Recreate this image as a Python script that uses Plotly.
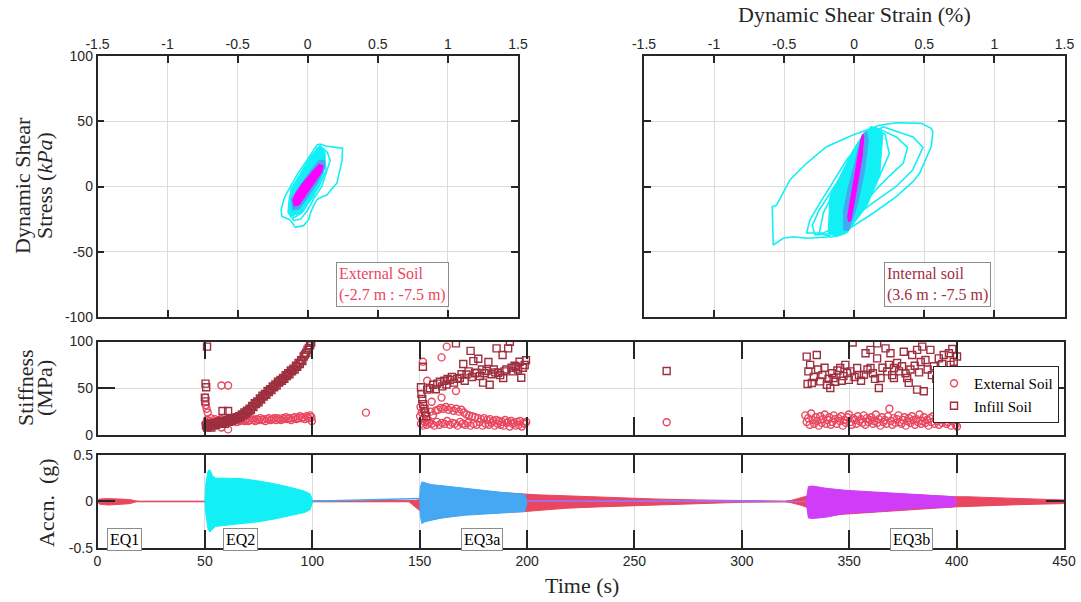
import plotly.graph_objects as go

# ---------------- colours ----------------
RED = "#E8475F"       # external soil / base record
DARK_RED = "#9E2F3F"  # infill soil
CYAN = "#12F0F5"      # EQ2
BLUE = "#44A8F2"      # EQ3a
MAG = "#FF00FF"       # loops, EQ3b cores
PURPLE = "#D03DF8"    # EQ3b record
FRAME = "#262626"
GRID = "#DCDCDC"
SERIF = "Liberation Serif"
SANS = "Liberation Sans"

# ---------------- hysteresis loops: external soil (strain %, stress kPa) ----------------
ext_loop1_strain = [0.089, 0.13, 0.20, 0.248, 0.245, 0.22, 0.208, 0.17, 0.137, 0.10, 0.066, 0.04, 0.02, 0.006,
                    -0.03, -0.089, -0.11, -0.125, -0.16, -0.184, -0.19, -0.172, -0.15, -0.125, -0.07, -0.006,
                    0.03, 0.066, 0.089]
ext_loop1_stress = [32.6, 31, 30, 29.3, 20, 8, 2.5, -2, -6.5, -8, -10, -15, -20, -25.6,
                    -30, -31.3, -28, -25.7, -24, -23, -18, -10.3, -5, 0, 10, 20,
                    26, 31.8, 32.6]
ext_loop2_strain = [0.10, 0.14, 0.16, 0.13, 0.10, 0.05, 0.0, -0.05, -0.10, -0.14, -0.13, -0.08, -0.02, 0.04, 0.08, 0.10]
ext_loop2_stress = [30, 26, 20, 10, 0, -8, -18, -25, -26, -20, -8, 2, 12, 22, 29, 30]
ext_loop3_strain = [0.07, 0.12, 0.13, 0.08, 0.02, -0.04, -0.10, -0.12, -0.09, -0.04, 0.02, 0.07]
ext_loop3_stress = [30, 24, 12, 0, -10, -20, -24, -16, -4, 6, 18, 30]
ext_dense_strain = [-0.125, 0.018, 0.089, 0.125, 0.113, 0.041, -0.053, -0.125, -0.137]
ext_dense_stress = [-2.7, 22.8, 31.8, 25.4, 10, -7.8, -20.5, -23, -12.9]
ext_blue_strain = [-0.11, -0.06, 0.0, 0.07, 0.12, 0.12, 0.08, 0.02, -0.06, -0.12]
ext_blue_stress = [-18, -17, -8, 3, 14, 20, 20, 12, 0, -10]
ext_core_strain = [-0.10, -0.06, -0.01, 0.05, 0.10, 0.11, 0.08, 0.03, -0.04, -0.09, -0.11]
ext_core_stress = [-15, -14, -6, 3, 11, 16, 17, 11, 2, -6, -11]

# ---------------- hysteresis loops: internal soil ----------------
int_loop1_strain = [0.561, 0.549, 0.466, 0.419, 0.300, 0.134, -0.032, -0.151, -0.34, -0.436, -0.507, -0.578,
                    -0.585, -0.554, -0.459, -0.34, -0.198, -0.009, 0.181, 0.30, 0.478, 0.549, 0.561]
int_loop1_stress = [42, 30.5, 10.1, 3.7, -7.8, -20.5, -32, -38.5, -39.7, -38.5, -39.7, -44.8,
                    -15.5, -14.2, 5, 17.8, 30.5, 39.5, 47, 48.9, 48.4, 44.6, 42]
int_loop2_strain = [0.205, 0.419, 0.49, 0.417, 0.30, 0.13, -0.03, -0.22, -0.34, -0.317, -0.245, -0.174,
                    -0.055, 0.063, 0.205]
int_loop2_stress = [45.8, 38, 30, 12.6, 0, -12.7, -25.7, -35.6, -35.6, -25.7, -12.7, 0,
                    20.3, 35.6, 45.8]
int_loop3_strain = [0.15, 0.20, 0.30, 0.38, 0.35, 0.25, 0.15, 0.05, -0.05, -0.15, -0.28, -0.30, -0.25,
                    -0.15, -0.05, 0.05, 0.15]
int_loop3_stress = [45, 43, 38, 30, 18, 8, -3, -15, -28, -36, -37, -30, -18, -2, 15, 32, 45]
int_loop4_strain = [0.12, 0.22, 0.25, 0.18, 0.08, -0.05, -0.18, -0.25, -0.22, -0.12, 0.0, 0.12]
int_loop4_stress = [46, 40, 25, 8, -8, -25, -38, -36, -20, 0, 25, 46]
int_dense_strain = [0.146, 0.205, 0.181, 0.087, -0.055, -0.127, -0.186, -0.174, -0.103, -0.009, 0.075]
int_dense_stress = [45.8, 41, 7.5, -15.5, -35.8, -38.5, -35.8, -7.8, 7.5, 28, 42]
int_blue_strain = [-0.08, -0.04, 0.02, 0.07, 0.10, 0.09, 0.06, 0.02, -0.04, -0.08]
int_blue_stress = [-33, -34, -15, 10, 35, 42, 40, 25, 0, -20]
int_core_strain = [-0.045, -0.025, 0.0, 0.03, 0.055, 0.068, 0.06, 0.045, 0.02, -0.01, -0.035, -0.048]
int_core_stress = [-27, -26, -12, 5, 22, 38, 40, 35, 18, 0, -15, -24]

# ---------------- stiffness (MPa) vs time (s) ----------------
ext_eq2_t = [50.2, 50.4, 50.8, 51.3, 50.3, 50.6, 57.7, 60.8, 57.7, 60.8,
             51.0, 51.6, 52.2, 52.8, 53.4, 54.0, 54.6, 55.2, 55.8, 56.4, 57.0, 57.6, 58.2, 58.8, 59.4, 60.0,
             60.7, 61.4, 62.1, 62.8, 63.5, 64.2, 64.9, 65.6, 66.3, 67.0, 67.8, 68.6, 69.4, 70.2, 71.0, 71.8,
             72.6, 73.4, 74.2, 75.0, 75.8, 76.6, 77.4, 78.2, 79.0, 79.8, 80.6, 81.4, 82.2, 83.0, 83.8, 84.6,
             85.4, 86.2, 87.0, 87.8, 88.6, 89.4, 90.2, 91.0, 91.8, 92.6, 93.4, 94.2, 95.0, 95.8, 96.6, 97.4,
             98.2, 99.0, 99.6, 99.8, 125.0]
ext_eq2_v = [40, 32, 28, 24, 12, 9, 53, 53, 8, 6,
             16, 13, 15, 18, 12, 14, 17, 15, 13, 16, 14, 17, 15, 13, 16, 14,
             15, 17, 14, 16, 15, 17, 14, 16, 15, 17, 16, 15, 17, 15, 16, 18,
             16, 15, 17, 16, 18, 16, 17, 15, 17, 18, 16, 17, 18, 16, 18, 17,
             16, 18, 17, 19, 17, 18, 16, 18, 19, 17, 18, 20, 18, 19, 17, 20,
             18, 21, 19, 15, 23.9]
ext_eq3a_t = [151.5, 162.6, 160.2, 153.5, 155.6, 160.2, 166.9, 150.4,
              150.2, 150.6, 151.0, 151.4, 151.8, 152.3, 152.8, 153.3, 153.8, 154.4, 155.0, 155.6, 156.2, 156.8,
              157.4, 158.0, 158.6, 159.2, 159.8, 160.4, 161.0, 161.6, 162.2, 162.8, 163.4, 164.0, 164.6, 165.2,
              165.8, 166.4, 167.0, 167.6, 168.2, 168.8, 169.4, 170.0, 170.6, 171.2, 171.8, 172.4, 173.0, 173.7,
              174.4, 175.1, 175.8, 176.5, 177.2, 177.9, 178.6, 179.3, 180.0, 180.7, 181.4, 182.1, 182.8, 183.5,
              184.2, 184.9, 185.6, 186.3, 187.0, 187.7, 188.4, 189.1, 189.8, 190.5, 191.2, 191.9, 192.6, 193.3,
              194.0, 194.7, 195.4, 196.1, 196.8, 197.5, 198.2, 198.9, 199.6, 265.0]
ext_eq3a_v = [78.4, 94.5, 83, 58, 35.6, 40, 47, 30,
              20, 12, 24, 10, 18, 14, 22, 11, 16, 13, 25, 12, 21, 10,
              26, 14, 27, 11, 29, 13, 28, 12, 30, 15, 27, 11, 29, 13,
              26, 12, 28, 10, 25, 14, 27, 12, 24, 11, 22, 13, 21, 10,
              20, 12, 19, 11, 18, 14, 17, 10, 18, 12, 16, 11, 17, 13,
              15, 10, 16, 12, 15, 11, 14, 10, 16, 13, 14, 9, 15, 12,
              13, 10, 14, 11, 15, 9, 13, 12, 14, 13.6]
ext_eq3b_t = [329.5, 330.2, 330.9, 331.6, 332.3, 333.0, 333.7, 334.4, 335.1, 335.8, 336.5, 337.2, 337.9, 338.6,
              339.3, 340.0, 340.7, 341.4, 342.1, 342.8, 343.5, 344.2, 344.9, 345.6, 346.3, 347.0, 347.7, 348.4,
              349.1, 349.8, 350.5, 351.2, 351.9, 352.6, 353.3, 354.0, 354.7, 355.4, 356.1, 356.8, 357.5, 358.2,
              358.9, 359.6, 360.3, 361.0, 361.7, 362.4, 363.1, 363.8, 364.5, 365.2, 365.9, 366.6, 367.3, 368.0,
              368.7, 369.4, 370.1, 370.8, 371.5, 372.2, 372.9, 373.6, 374.3, 375.0, 375.7, 376.4, 377.1, 377.8,
              378.5, 379.2, 379.9, 380.6, 381.3, 382.0, 382.7, 383.4, 384.1, 384.8, 385.5, 386.2, 386.9, 387.6,
              388.3, 389.0, 389.7, 390.4, 391.1, 391.8, 392.5, 393.2, 393.9, 394.6, 395.3, 396.0, 396.7, 397.4,
              398.1, 398.8, 399.5, 400.2]
ext_eq3b_v = [21, 14, 18, 11, 23, 16, 12, 19, 15, 10,
              20, 13, 17, 22, 12, 16, 19, 11, 14, 21,
              17, 12, 18, 15, 20, 10, 16, 13, 19, 22,
              14, 11, 18, 16, 12, 20, 15, 17, 13, 21,
              11, 18, 14, 16, 19, 12, 15, 22, 13, 17,
              10, 19, 14, 16, 12, 20, 28, 15, 11, 18,
              13, 17, 21, 14, 12, 16, 19, 10, 15, 18,
              13, 20, 16, 11, 17, 14, 22, 12, 15, 19,
              13, 16, 10, 18, 14, 20, 12, 17, 15, 11,
              19, 13, 16, 21, 12, 14, 18, 10, 15, 20,
              11, 9]

inf_eq2_t = [51.0, 50.3, 50.6, 50.0, 50.2, 58.2, 60.8,
             50.5, 51.0, 51.5, 52.0, 52.5, 53.0, 53.5, 54.0, 54.6, 55.2, 55.8, 56.4, 57.0, 57.6, 58.2, 58.8,
             59.4, 60.0, 60.6, 61.2, 61.8, 62.4, 63.0, 63.6, 64.2, 64.8, 65.4, 66.0, 66.6, 67.2, 67.8, 68.4,
             69.0, 69.6, 70.2, 70.8, 71.4, 72.0, 72.6, 73.2, 73.8, 74.4, 75.0, 75.6, 76.2, 76.8, 77.4, 78.0,
             78.6, 79.2, 79.8, 80.4, 81.0, 81.6, 82.2, 82.8, 83.4, 84.0, 84.6, 85.2, 85.8, 86.4, 87.0, 87.6,
             88.2, 88.8, 89.4, 90.0, 90.6, 91.2, 91.8, 92.4, 93.0, 93.6, 94.2, 94.8, 95.4, 96.0, 96.6, 97.2,
             97.8, 98.4, 99.0, 99.5]
inf_eq2_v = [94.5, 55, 51, 40, 36, 25.7, 25.7,
             10, 8, 12, 9, 11, 8, 12, 10, 13, 11, 12, 14, 12, 15, 13, 14,
             12, 15, 16, 14, 17, 15, 16, 18, 17, 19, 18, 20, 19, 22, 21, 24,
             23, 26, 25, 28, 27, 31, 30, 34, 33, 36, 35, 39, 38, 42, 41, 44,
             43, 47, 46, 49, 48, 52, 51, 54, 53, 57, 56, 59, 58, 61, 60, 64,
             63, 66, 65, 69, 68, 71, 70, 74, 73, 77, 76, 80, 79, 84, 86, 88,
             91, 93, 96, 99]
inf_eq3a_t = [151.5, 150.6, 150.8, 151.2, 151.6, 152.2, 152.6, 153.0, 153.5, 154.8, 156.3, 157.5, 158.2, 159.4,
              160.5, 161.5, 162.5, 163.0, 164.0, 165.0, 166.0, 166.9, 167.5, 168.7, 169.5, 170.3, 171.0, 171.8,
              172.8, 173.7, 174.3, 175.0, 175.8, 176.5, 177.3, 178.0, 179.0, 179.5, 180.2, 181.1, 182.0, 182.6,
              183.5, 184.5, 185.8, 185.2, 186.5, 187.5, 188.6, 188.9, 189.5, 190.4, 191.2, 192.0, 192.8, 193.5,
              194.2, 195.0, 195.8, 196.5, 197.3, 198.0, 198.9, 199.5, 265.0]
inf_eq3a_v = [73, 51, 44, 38.5, 33, 28, 24, 20, 48.5, 50, 53.7, 49, 55, 57,
              52, 58, 54, 60, 58.8, 62, 56, 98, 60, 61, 65, 76, 58, 64.7,
              68, 90, 62, 79, 66, 66.5, 81.5, 63, 70, 56, 66, 68.4, 78, 53.7,
              65, 70, 92.7, 67, 66.5, 64, 85.6, 61, 68, 70, 92.7, 99.8, 72, 68,
              74, 73, 70, 78.4, 61.3, 72, 74.8, 80, 68.4]
inf_eq3b_t = [330.2, 331.0, 331.8, 330.6, 332.6, 333.5, 334.9, 335.5, 336.5, 337.5, 338.5, 339.6, 340.4, 341.2,
              342.0, 342.7, 343.5, 344.5, 345.8, 346.5, 347.3, 348.2, 349.0, 349.8, 350.5, 351.6, 352.5, 353.7,
              354.5, 355.5, 356.8, 357.6, 358.5, 359.9, 359.9, 361.0, 362.0, 363.0, 363.0, 363.8, 364.6, 365.5,
              366.9, 367.7, 368.5, 369.2, 370.0, 370.8, 370.8, 372.3, 373.2, 374.6, 375.4, 376.2, 377.0, 377.7,
              378.5, 379.3, 380.5, 381.6, 381.6, 382.5, 383.3, 384.0, 384.7, 385.5, 386.5, 387.8, 388.5, 389.4,
              390.5, 391.7, 392.5, 393.3, 394.0, 395.0, 396.4, 397.2, 398.0, 398.7, 399.5, 400.2]
inf_eq3b_v = [83.8, 68, 75, 54.5, 55.6, 62, 85.6, 70, 57.4, 64, 72, 53.8, 60, 50.3,
              66, 61, 57, 69, 71.6, 58, 63, 75, 66.3, 59, 68, 99, 62, 71.6,
              64, 58, 64.5, 87.5, 70, 91, 71.6, 66, 60, 98, 82, 50.3, 61, 72,
              92.7, 68, 75, 87.5, 64, 71.6, 61, 77, 68, 73.5, 89, 66, 61, 55.7,
              70, 85.6, 74, 91, 48.5, 67, 78, 94.5, 46.8, 80.2, 70, 91, 64, 73.5,
              60, 82, 69, 76, 85.6, 66, 87.5, 75, 92, 78.4, 68, 84]

# ---------------- acceleration envelopes (g) ----------------
base_t = [0, 1, 5, 10, 15, 18, 20, 50, 100, 145, 148, 150, 155, 170, 199, 205, 218, 233, 245, 260, 280, 300,
          320, 323, 328, 331, 340, 399, 405, 417, 430, 449, 450]
base_up = [0.01, 0.025, 0.03, 0.025, 0.02, 0.005, 0.002, 0.002, 0.003, 0.003, 0.01, 0.02, 0.15, 0.12, 0.075,
           0.07, 0.06, 0.045, 0.035, 0.025, 0.015, 0.006, 0.003, 0.01, 0.04, 0.06, 0.12, 0.05, 0.05, 0.04, 0.03,
           0.02, 0.015]
base_lo = [-0.01, -0.03, -0.04, -0.035, -0.025, -0.005, -0.003, -0.003, -0.005, -0.005, -0.06, -0.1, -0.2,
           -0.14, -0.11, -0.1, -0.075, -0.06, -0.045, -0.035, -0.025, -0.01, -0.005, -0.015, -0.045, -0.07,
           -0.15, -0.06, -0.055, -0.045, -0.035, -0.025, -0.02]
eq2_t = [50.0, 50.5, 51.5, 52.3, 53.5, 55, 60, 67, 75, 82.5, 90, 96.5, 99, 100]
eq2_up = [0.0, 0.2, 0.33, 0.34, 0.28, 0.25, 0.25, 0.245, 0.22, 0.19, 0.15, 0.11, 0.08, 0.02]
eq2_lo = [0.0, -0.15, -0.3, -0.33, -0.3, -0.27, -0.25, -0.24, -0.22, -0.19, -0.155, -0.12, -0.09, -0.02]
drift_t = [100, 150]
drift_a = [0.0, 0.03]
eq3a_t = [150.0, 150.3, 151, 152.5, 155.7, 160, 171, 180, 187, 199, 200]
eq3a_up = [0.03, 0.15, 0.21, 0.2, 0.18, 0.17, 0.14, 0.12, 0.10, 0.075, 0.01]
eq3a_lo = [0.0, -0.15, -0.24, -0.22, -0.2, -0.18, -0.15, -0.14, -0.13, -0.11, -0.01]
tail_t = [200, 330]
tail_a = [0.004, 0.002]
eq3b_t = [330, 331, 333, 339.5, 348, 363, 380, 398.6, 400]
eq3b_up = [0.02, 0.16, 0.165, 0.14, 0.12, 0.10, 0.07, 0.05, 0.01]
eq3b_lo = [-0.02, -0.18, -0.185, -0.17, -0.13, -0.11, -0.075, -0.06, -0.01]

event_names = ["EQ1", "EQ2", "EQ3a", "EQ3b"]
event_label_t = [12.5, 66.5, 179.0, 379.0]

strain_ticks = [-1.5, -1, -0.5, 0, 0.5, 1, 1.5]
strain_labels = ["-1.5", "-1", "-0.5", "0", "0.5", "1", "1.5"]
stress_ticks = [-100, -50, 0, 50, 100]
stress_labels = ["-100", "-50", "0", "50", "100"]
time_ticks = [0, 50, 100, 150, 200, 250, 300, 350, 400, 450]

# ---------------- panel layout (paper fractions) ----------------
W, H = 1081, 602
X_TOP_L = [97.5 / W, 518 / W]
X_TOP_R = [644 / W, 1064.5 / W]
X_BOT = [97.5 / W, 1064 / W]
Y_TOP = [1 - 317 / H, 1 - 56 / H]
Y_STIF = [1 - 435 / H, 1 - 341.5 / H]
Y_ACC = [1 - 547.7 / H, 1 - 455 / H]

fig = go.Figure()


def loop(xs, ys, xa, ya, color, width=1.6):
    fig.add_trace(go.Scatter(x=xs, y=ys, mode="lines", line=dict(color=color, width=width),
                             xaxis=xa, yaxis=ya, showlegend=False, hoverinfo="skip"))


def patch(xs, ys, xa, ya, color):
    fig.add_trace(go.Scatter(x=xs, y=ys, mode="lines", fill="toself", fillcolor=color,
                             line=dict(color=color, width=1), xaxis=xa, yaxis=ya,
                             showlegend=False, hoverinfo="skip"))


def band(t, up, lo, color, xa="x4", ya="y4"):
    fig.add_trace(go.Scatter(x=list(t) + list(t)[::-1], y=list(up) + list(lo)[::-1], mode="lines",
                             fill="toself", fillcolor=color, line=dict(color=color, width=1),
                             xaxis=xa, yaxis=ya, showlegend=False, hoverinfo="skip"))


# external soil hysteresis
patch(ext_dense_strain, ext_dense_stress, "x", "y", CYAN)
loop(ext_loop1_strain, ext_loop1_stress, "x", "y", CYAN)
loop(ext_loop2_strain, ext_loop2_stress, "x", "y", CYAN)
loop(ext_loop3_strain, ext_loop3_stress, "x", "y", CYAN)
patch(ext_blue_strain, ext_blue_stress, "x", "y", BLUE)
patch(ext_core_strain, ext_core_stress, "x", "y", MAG)

# internal soil hysteresis
patch(int_dense_strain, int_dense_stress, "x2", "y2", CYAN)
loop(int_loop1_strain, int_loop1_stress, "x2", "y2", CYAN)
loop(int_loop2_strain, int_loop2_stress, "x2", "y2", CYAN)
loop(int_loop3_strain, int_loop3_stress, "x2", "y2", CYAN)
loop(int_loop4_strain, int_loop4_stress, "x2", "y2", CYAN)
patch(int_blue_strain, int_blue_stress, "x2", "y2", BLUE)
patch(int_core_strain, int_core_stress, "x2", "y2", MAG)

# stiffness scatter
fig.add_trace(go.Scatter(x=ext_eq2_t + ext_eq3a_t + ext_eq3b_t, y=ext_eq2_v + ext_eq3a_v + ext_eq3b_v,
                         mode="markers", name="External Soil", xaxis="x3", yaxis="y3",
                         marker=dict(symbol="circle-open", size=7, color=RED, line=dict(width=1.4))))
fig.add_trace(go.Scatter(x=inf_eq2_t + inf_eq3a_t + inf_eq3b_t, y=inf_eq2_v + inf_eq3a_v + inf_eq3b_v,
                         mode="markers", name="Infill Soil", xaxis="x3", yaxis="y3",
                         marker=dict(symbol="square-open", size=7, color=DARK_RED, line=dict(width=1.4))))

# acceleration records
band(base_t, base_up, base_lo, RED)
band(eq2_t, eq2_up, eq2_lo, CYAN)
loop(drift_t, drift_a, "x4", "y4", BLUE, 1.5)
band(eq3a_t, eq3a_up, eq3a_lo, BLUE)
loop(tail_t, tail_a, "x4", "y4", "#A66CF0", 2)
band(eq3b_t, eq3b_up, eq3b_lo, PURPLE)

tick_font = dict(family=SANS, size=14, color=FRAME)
common = dict(showline=True, linecolor=FRAME, linewidth=1.5, mirror="ticks", ticks="inside",
              tickcolor=FRAME, tickwidth=1.5, showgrid=True, gridcolor=GRID, gridwidth=1,
              zeroline=False, tickfont=tick_font, automargin=False)

fig.update_layout(
    template="none",
    width=W, height=H, margin=dict(l=0, r=0, t=0, b=0, pad=0), autosize=False,
    paper_bgcolor="white", plot_bgcolor="white",
    xaxis=dict(domain=X_TOP_L, anchor="y", range=[-1.5, 1.5], side="top", tickvals=strain_ticks,
               ticktext=strain_labels, ticklen=7, **common),
    yaxis=dict(domain=Y_TOP, anchor="x", range=[-100, 100], tickvals=stress_ticks, ticktext=stress_labels,
               ticklen=7, **common),
    xaxis2=dict(domain=X_TOP_R, anchor="y2", range=[-1.5, 1.5], side="top", tickvals=strain_ticks,
                ticktext=strain_labels, ticklen=7, **common),
    yaxis2=dict(domain=Y_TOP, anchor="x2", range=[-100, 100], tickvals=stress_ticks, ticklen=7,
                showticklabels=False, **common),
    xaxis3=dict(domain=X_BOT, anchor="y3", range=[0, 450], tickvals=time_ticks, ticklen=18,
                showticklabels=False, **common),
    yaxis3=dict(domain=Y_STIF, anchor="x3", range=[0, 100], tickvals=[0, 50, 100], ticklen=18, **common),
    xaxis4=dict(domain=X_BOT, anchor="y4", range=[0, 450], tickvals=time_ticks, ticklen=18, **common),
    yaxis4=dict(domain=Y_ACC, anchor="x4", range=[-0.5, 0.5], tickvals=[-0.5, 0, 0.5],
                ticktext=["-0.5", "0", "0.5"], ticklen=18, **common),
    legend=dict(x=933 / W, y=1 - 366 / H, xanchor="left", yanchor="top", bgcolor="white",
                bordercolor=FRAME, borderwidth=1, font=dict(family=SERIF, size=15, color="black"),
                tracegroupgap=0, itemwidth=30),
    showlegend=True,
)

ann = []
title_font = dict(family=SERIF, size=22, color=FRAME)


def title(text, px, py, angle=0):
    ann.append(dict(text=text, x=px / W, y=1 - py / H, xref="paper", yref="paper", xanchor="center",
                    yanchor="middle", textangle=angle, showarrow=False, font=title_font))


title("Dynamic Shear Strain (%)", 854, 15)
title("Time (s)", 582, 585)
title("Dynamic Shear", 22, 186, -90)
title("Stress (<i>kPa</i>)", 44, 186, -90)
title("Stiffness", 25, 388, -90)
title("(MPa)", 44, 388, -90)
title("Accn.\u00a0 (g)", 46, 503, -90)

box_font = dict(family=SERIF, size=16)
ann.append(dict(text="External Soil<br>(-2.7 m : -7.5 m)", x=0.602, y=-75, xref="x", yref="y",
                xanchor="center", yanchor="middle", showarrow=False, align="left", bgcolor="white",
                bordercolor="#8C8C8C", borderwidth=1, borderpad=2, font=dict(color=RED, **box_font)))
ann.append(dict(text="Internal soil<br>(3.6 m : -7.5 m)", x=0.594, y=-75, xref="x2", yref="y2",
                xanchor="center", yanchor="middle", showarrow=False, align="left", bgcolor="white",
                bordercolor="#8C8C8C", borderwidth=1, borderpad=2, font=dict(color=DARK_RED, **box_font)))
for name, t in zip(event_names, event_label_t):
    ann.append(dict(text=name, x=t, y=-0.415, xref="x4", yref="y4", xanchor="center", yanchor="middle",
                    showarrow=False, bgcolor="white", bordercolor="#8C8C8C", borderwidth=1, borderpad=2,
                    font=dict(color="black", **box_font)))
fig.update_layout(annotations=ann)

fig.write_html("out.html")
